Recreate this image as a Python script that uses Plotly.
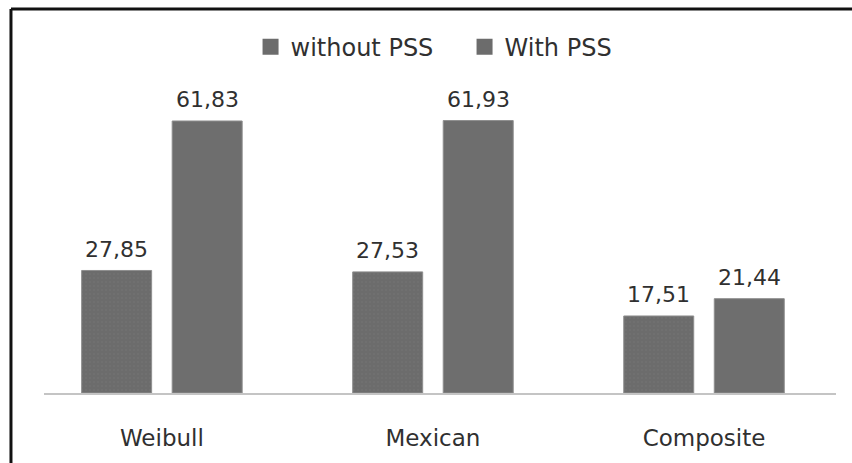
import plotly.graph_objects as go

# Wavelet families compared
categories = ["Weibull", "Mexican", "Composite"]
without_pss = [27.85, 27.53, 17.51]
with_pss = [61.83, 61.93, 21.44]
series_names = ["without PSS", "With PSS"]

BAR_FILL = "#6e6e6e"
BAR_EDGE = "#8e8e8e"
TEXT = "#303030"
FONT = "DejaVu Sans"

fig = go.Figure()

fig.add_trace(go.Bar(
    x=categories, y=without_pss, name=series_names[0], showlegend=False,
    marker=dict(color=BAR_FILL, line=dict(color=BAR_EDGE, width=1),
                pattern=dict(shape=".", fgcolor="#777777", bgcolor="#6c6c6c",
                             size=4, solidity=0.2)),
))
fig.add_trace(go.Bar(
    x=categories, y=with_pss, name=series_names[1], showlegend=False,
    marker=dict(color=BAR_FILL, line=dict(color=BAR_EDGE, width=1)),
))

# legend entries with larger square swatches
for name in series_names:
    fig.add_trace(go.Scatter(
        x=[None], y=[None], mode="markers", name=name,
        marker=dict(symbol="square", size=16, color="#6c6c6c"),
    ))

# value labels above each bar
bargap, groupgap = 0.332, 0.227
slot = (1 - bargap) / 2
for series, shift in ((without_pss, -slot / 2), (with_pss, slot / 2)):
    for i, v in enumerate(series):
        fig.add_annotation(
            x=i + shift, y=v, xref="x", yref="y",
            text=f"{v:.2f}".replace(".", ","), showarrow=False,
            yanchor="middle", yshift=21,
            font=dict(family=FONT, size=22, color=TEXT),
        )

# frame lines along the top and left edges
fig.add_shape(type="line", xref="paper", yref="paper",
              x0=-0.0417, x1=1.1, y0=1.311, y1=1.311,
              line=dict(color="#111111", width=3))
fig.add_shape(type="line", xref="paper", yref="paper",
              x0=-0.0417, x1=-0.0417, y0=1.311, y1=-0.3,
              line=dict(color="#111111", width=3))

fig.update_layout(
    width=852, height=463,
    margin=dict(l=44, r=16, t=100, b=68),
    paper_bgcolor="white", plot_bgcolor="white",
    barmode="group", bargap=bargap, bargroupgap=groupgap,
    font=dict(family=FONT, color=TEXT),
    legend=dict(orientation="h", x=0.531, xanchor="center", y=1.18, yanchor="middle",
                font=dict(family=FONT, size=24, color=TEXT),
                itemwidth=30, tracegroupgap=0,
                entrywidth=169, entrywidthmode="pixels"),
    xaxis=dict(range=[-0.435, 2.487], showline=True, linecolor="#c4c4c4", linewidth=2,
               showgrid=False, zeroline=False, ticks="", ticklabelstandoff=23,
               tickfont=dict(family=FONT, size=23, color=TEXT), fixedrange=True),
    yaxis=dict(range=[0, 66.6], visible=False, showgrid=False, zeroline=False),
)

fig.write_html("out.html")
